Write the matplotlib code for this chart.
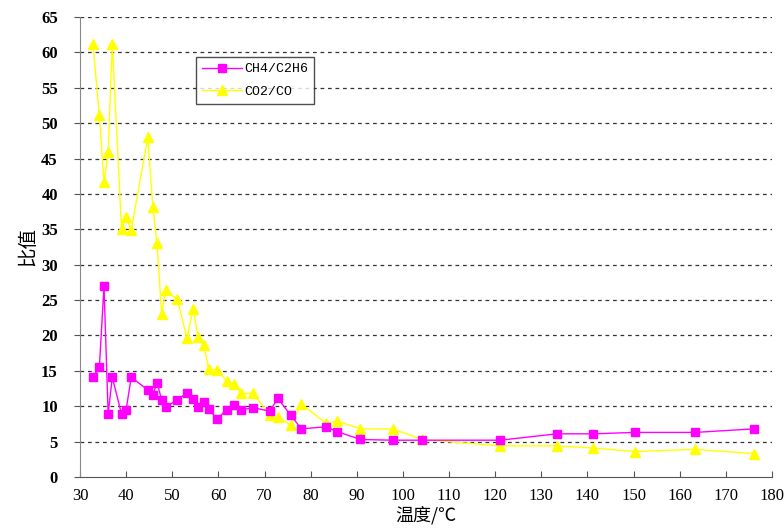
import matplotlib
matplotlib.use("Agg")
import matplotlib.pyplot as plt

temps = [32.8, 34.2, 35.2, 36.1, 37.0, 39.0, 40.0, 41.1, 44.7, 45.8, 46.7, 47.7, 48.6,
         51.1, 53.2, 54.5, 55.6, 56.8, 57.9, 59.7, 61.8, 63.3, 65.0, 67.6, 71.1, 72.9,
         75.7, 78.0, 83.3, 85.8, 90.8, 97.8, 104.1, 121.1, 133.3, 141.3, 150.2, 163.3, 176.1]
ch4_c2h6 = [14.1, 15.5, 27.0, 8.9, 14.1, 8.9, 9.5, 14.1, 12.3, 11.6, 13.3, 10.9, 9.9,
            10.9, 11.9, 11.0, 9.9, 10.6, 9.6, 8.2, 9.5, 10.2, 9.5, 9.8, 9.3, 11.1,
            8.7, 6.8, 7.1, 6.4, 5.3, 5.2, 5.2, 5.2, 6.1, 6.1, 6.3, 6.3, 6.8]
co2_co = [61.2, 51.1, 41.7, 45.9, 61.2, 35.1, 36.7, 34.9, 48.0, 38.1, 33.0, 23.0, 26.4,
          25.1, 19.6, 23.8, 19.8, 18.7, 15.2, 15.1, 13.6, 13.2, 11.8, 11.8, 8.7, 8.5,
          7.3, 10.3, 7.6, 7.9, 6.8, 6.8, 5.3, 4.4, 4.4, 4.1, 3.6, 3.9, 3.3]
x_ticks = list(range(30, 181, 10))
y_ticks = list(range(0, 66, 5))

fig = plt.figure(figsize=(7.84, 5.29), dpi=100)
ax = fig.add_axes([80/784, 1-477/529, 692/784, 460/529])

for y in y_ticks[1:]:
    ax.axhline(y, color='#333333', lw=0.9, ls=(0, (3, 3)), zorder=0)

ax.plot(temps, ch4_c2h6, color='#FF00FF', lw=1.0, marker='s', ms=5.5,
        mec='#FF00FF', mfc='#FF00FF', label='CH4/C2H6', zorder=3)
ax.plot(temps, co2_co, color='#FFFF00', lw=1.0, marker='^', ms=7,
        mec='#FFFF00', mfc='#FFFF00', label='CO2/CO', zorder=2)

ax.set_xlim(30, 180)
ax.set_ylim(0, 65)
ax.set_xticks(x_ticks)
ax.set_yticks(y_ticks)
ax.set_xticklabels([str(t) for t in x_ticks], family='Liberation Serif', fontsize=12)
ax.set_yticklabels([str(t) for t in y_ticks], family='Liberation Serif', fontsize=12,
                   fontweight='bold')
ax.tick_params(axis='x', direction='in', length=4, color='#555555', pad=8)
ax.tick_params(axis='y', direction='out', length=4, color='#555555', pad=12)
for s in ['top', 'right']:
    ax.spines[s].set_visible(False)
ax.spines['left'].set_color('#888888')
ax.spines['bottom'].set_color('#555555')

ax.set_xlabel('温度/℃', family=['Noto Sans CJK SC', 'DejaVu Sans'], fontsize=13, labelpad=1)
ax.set_ylabel('比值', family=['Noto Sans CJK SC', 'DejaVu Sans'], fontsize=14, labelpad=2)

leg = ax.legend(loc='upper left', bbox_to_anchor=(0.168, 0.913), borderaxespad=0,
                prop={'family': 'Liberation Mono', 'size': 9.5}, frameon=True,
                fancybox=False, shadow=False, handlelength=3.0, borderpad=0.45,
                labelspacing=0.8, handletextpad=0.2)
leg.get_frame().set_edgecolor('#222222')
leg.get_frame().set_linewidth(1.0)

fig.savefig('out.png', dpi=100)
